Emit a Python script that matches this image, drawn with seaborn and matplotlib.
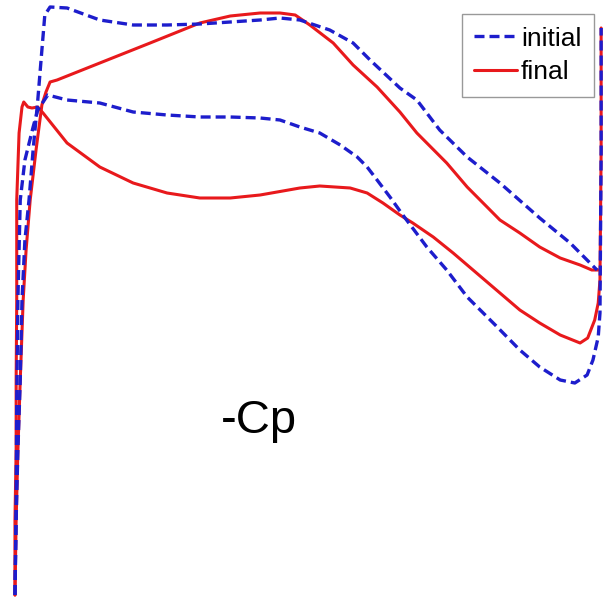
import matplotlib
matplotlib.use("Agg")
import matplotlib.pyplot as plt
from matplotlib.lines import Line2D
import numpy as np
import pandas as pd
import seaborn as sns

sns.set_theme(style="white")
plt.rcParams["font.family"] = ["Liberation Sans", "DejaVu Sans"]
plt.rcParams["text.color"] = "black"

# Pressure distributions along the chord (x/c) as -Cp, initial vs. final design
init_upper_x = [0.000, 0.002, 0.005, 0.009, 0.012, 0.017, 0.024, 0.031, 0.039, 0.046, 0.051,
                0.060, 0.089, 0.145, 0.202, 0.260, 0.316, 0.368, 0.419, 0.453, 0.487, 0.538,
                0.578, 0.607, 0.658, 0.687, 0.726, 0.773, 0.829, 0.897, 0.949, 0.983, 0.995]
init_upper_cp = [-1.000, -0.700, -0.420, -0.140, 0.180, 0.420, 0.580, 0.780, 0.980, 1.180, 1.320,
                 1.352, 1.348, 1.300, 1.280, 1.280, 1.284, 1.292, 1.300, 1.308, 1.300, 1.260,
                 1.208, 1.140, 1.028, 0.980, 0.860, 0.752, 0.648, 0.508, 0.408, 0.328, 0.300]

init_lower_x = [0.000, 0.002, 0.003, 0.005, 0.009, 0.017, 0.031, 0.039, 0.056, 0.089, 0.145,
                0.202, 0.260, 0.316, 0.368, 0.419, 0.453, 0.487, 0.521, 0.556, 0.585, 0.602,
                0.619, 0.641, 0.663, 0.704, 0.738, 0.773, 0.821, 0.863, 0.897, 0.932, 0.957,
                0.978, 0.988, 0.997, 1.000, 1.002, 1.002]
init_lower_cp = [-1.000, -0.620, -0.220, 0.180, 0.580, 0.740, 0.872, 0.940, 1.000, 0.980, 0.968,
                 0.932, 0.920, 0.912, 0.912, 0.908, 0.900, 0.872, 0.848, 0.800, 0.752, 0.712,
                 0.660, 0.592, 0.520, 0.392, 0.300, 0.192, 0.080, -0.020, -0.088, -0.140, -0.152,
                 -0.120, -0.060, 0.032, 0.128, 0.780, 1.268]

final_upper_x = [0.000, 0.002, 0.005, 0.009, 0.014, 0.019, 0.026, 0.036, 0.046, 0.053, 0.060,
                 0.072, 0.145, 0.231, 0.316, 0.368, 0.419, 0.453, 0.479, 0.504, 0.544, 0.578,
                 0.619, 0.658, 0.687, 0.738, 0.773, 0.807, 0.829, 0.863, 0.897, 0.932, 0.966,
                 0.986, 0.997]
final_upper_cp = [-1.000, -0.700, -0.420, -0.140, 0.180, 0.380, 0.580, 0.780, 0.960, 1.012, 1.052,
                  1.060, 1.128, 1.208, 1.288, 1.316, 1.328, 1.328, 1.320, 1.280, 1.208, 1.120,
                  1.032, 0.932, 0.848, 0.728, 0.632, 0.552, 0.500, 0.448, 0.392, 0.348, 0.320,
                  0.300, 0.300]

final_lower_x = [0.000, 0.000, 0.002, 0.002, 0.003, 0.003, 0.007, 0.012, 0.015, 0.022, 0.029,
                 0.039, 0.048, 0.089, 0.145, 0.202, 0.260, 0.316, 0.368, 0.419, 0.487, 0.521,
                 0.573, 0.602, 0.629, 0.658, 0.680, 0.715, 0.749, 0.783, 0.829, 0.863, 0.897,
                 0.932, 0.966, 0.979, 0.991, 0.997, 1.000, 1.002, 1.002]
final_lower_cp = [-1.000, -0.700, -0.420, -0.140, 0.180, 0.580, 0.848, 0.952, 0.972, 0.952, 0.948,
                  0.952, 0.928, 0.808, 0.712, 0.648, 0.608, 0.588, 0.588, 0.600, 0.628, 0.636,
                  0.628, 0.608, 0.568, 0.520, 0.488, 0.432, 0.368, 0.300, 0.208, 0.140, 0.088,
                  0.040, 0.008, 0.028, 0.100, 0.168, 0.260, 0.780, 1.268]

case_labels = ["initial", "final"]
case_colors = {"initial": "#1d1dcc", "final": "#e8191c"}

curves = [
    ("final", "upper", final_upper_x, final_upper_cp),
    ("final", "lower", final_lower_x, final_lower_cp),
    ("initial", "upper", init_upper_x, init_upper_cp),
    ("initial", "lower", init_lower_x, init_lower_cp),
]

fig = plt.figure(figsize=(6.06, 6.00), dpi=100)
ax = fig.add_axes([0, 0, 1, 1])

styles = {
    "initial": dict(lw=2.4, linestyle=(0, (3.0, 1.5))),
    "final": dict(lw=2.2, linestyle="-"),
}

for case, surface, xs, cps in curves:
    df = pd.DataFrame({"x": xs, "cp": cps})
    sns.lineplot(data=df, x="x", y="cp", sort=False, estimator=None,
                 color=case_colors[case], ax=ax, legend=False,
                 solid_joinstyle="round", dash_joinstyle="round",
                 zorder=3 if case == "initial" else 2, **styles[case])

ax.set_xlim(-0.0256, 1.0103)
ax.set_ylim(-1.02, 1.38)
ax.axis("off")

ax.text(0.427, 0.278, "-Cp", transform=ax.transAxes, ha="center", va="baseline",
        fontsize=34, color="black")

handles = [Line2D([], [], color=case_colors[c], **styles[c]) for c in case_labels]
leg = ax.legend(handles, case_labels, loc="upper right",
                bbox_to_anchor=(594 / 606, 1 - 14 / 600), bbox_transform=fig.transFigure,
                frameon=True, fancybox=False, edgecolor="#808080", fontsize=19,
                handlelength=1.62, handletextpad=0.15, borderpad=0.48, labelspacing=0.35,
                borderaxespad=0)
for t in leg.get_texts():
    t.set_color("black")
leg.get_frame().set_linewidth(1.0)

fig.savefig("out.png", dpi=100, facecolor="white")
